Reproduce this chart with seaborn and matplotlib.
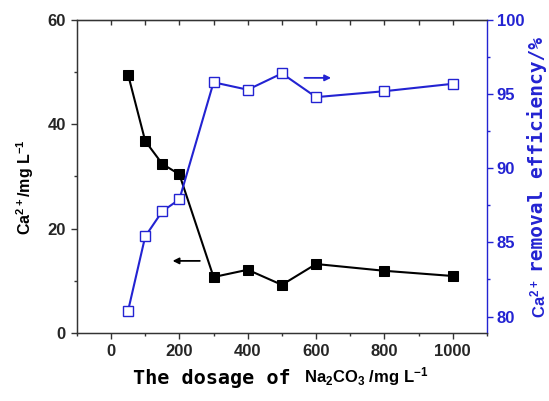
import matplotlib
matplotlib.use("Agg")
import matplotlib.pyplot as plt
import seaborn as sns
import pandas as pd
from matplotlib.ticker import MultipleLocator

# Na2CO3 dosage (mg/L)
dosage = [50, 100, 150, 200, 300, 400, 500, 600, 800, 1000]
# residual Ca2+ concentration (mg/L)
ca_residual = [49.5, 36.8, 32.4, 30.4, 10.7, 12.1, 9.2, 13.2, 11.9, 10.9]
# Ca2+ removal efficiency (%)
removal_eff = [80.4, 85.4, 87.1, 87.9, 95.8, 95.3, 96.4, 94.8, 95.2, 95.7]

x_ticks = [0, 200, 400, 600, 800, 1000]
left_ticks = [0, 20, 40, 60]
right_ticks = [80, 85, 90, 95, 100]

df = pd.DataFrame({"dosage": dosage, "ca": ca_residual, "eff": removal_eff})

sns.set_style("ticks")
plt.rcParams["font.family"] = ["Liberation Sans", "DejaVu Sans"]
plt.rcParams["font.weight"] = "bold"
plt.rcParams["mathtext.default"] = "regular"

BLUE = "#2323d2"
AXC = "#333333"
W, H = 549, 401

fig = plt.figure(figsize=(W / 100, H / 100), dpi=100)
ax = fig.add_axes([0.140, 0.170, 0.747, 0.780])
ax2 = ax.twinx()

sns.lineplot(data=df, x="dosage", y="ca", ax=ax, color="black", marker="s",
             markersize=6.5, markeredgecolor="black", linewidth=1.5)
sns.lineplot(data=df, x="dosage", y="eff", ax=ax2, color=BLUE, marker="s",
             markersize=6.5, markerfacecolor="white", markeredgecolor=BLUE,
             markeredgewidth=1.0, linewidth=1.5)

ax.set_xlim(-100, 1100)
ax.set_ylim(0, 60)
ax2.set_ylim(78.9, 100)

ax.set_xticks(x_ticks)
ax.xaxis.set_minor_locator(MultipleLocator(100))
ax.set_yticks(left_ticks)
ax.yaxis.set_minor_locator(MultipleLocator(10))
ax2.set_yticks(right_ticks)
ax2.yaxis.set_minor_locator(MultipleLocator(2.5))

ax.tick_params(axis="both", which="major", direction="out", length=4, width=1,
               color=AXC, labelsize=12, pad=4)
ax.tick_params(axis="both", which="minor", direction="out", length=2.5, width=1,
               color=AXC)
ax2.tick_params(axis="y", which="major", direction="out", length=4, width=1,
                color=BLUE, labelcolor=BLUE, labelsize=12, pad=3)
ax2.tick_params(axis="y", which="minor", direction="out", length=2.5, width=1,
                color=BLUE)
for lab in ax.get_xticklabels() + ax.get_yticklabels() + ax2.get_yticklabels():
    lab.set_fontweight("bold")

# mirrored ticks along the top edge
top = ax.secondary_xaxis("top")
top.set_xticks(range(0, 1001, 100))
top.tick_params(direction="in", length=3.5, width=1, color=AXC, labeltop=False)
top.spines["top"].set_color(AXC)

for side in ["left", "bottom", "top"]:
    ax.spines[side].set_color(AXC)
    ax.spines[side].set_linewidth(1.0)
    ax2.spines[side].set_color(AXC)
ax2.spines["right"].set_color(BLUE)
ax2.spines["right"].set_linewidth(1.0)
ax.spines["right"].set_visible(False)

ax.set_xlabel("")
ax.set_ylabel("")
ax2.set_ylabel("")

MONO = ["DejaVu Sans Mono"]

# left axis title
fig.text(25 / W, 1 - 187 / H, "Ca$^{2+}$/mg L$^{-1}$", rotation=90,
         ha="center", va="center", fontsize=11.5, fontweight="bold",
         color="black")

# bottom axis title: monospaced words followed by the formula
fig.text(133 / W, 1 - 378 / H, "The dosage of", family=MONO, fontsize=14.5,
         fontweight="bold", ha="left", va="center", color="black")
fig.text(304 / W, 1 - 377 / H, "Na$_2$CO$_3$ /mg L$^{-1}$", fontsize=12,
         fontweight="bold", ha="left", va="center", color="black")

# right axis title
fig.text(538 / W, 1 - 318 / H, "Ca$^{2+}$", rotation=90, fontsize=12,
         fontweight="bold", ha="center", va="bottom", color=BLUE)
fig.text(537 / W, 1 - 272 / H, "removal efficiency/%", rotation=90,
         family=MONO, fontsize=14, fontweight="bold", ha="center",
         va="bottom", color=BLUE)

# arrows pointing to the matching axis
ax.annotate("", xy=(172, 13.8), xytext=(268, 13.8),
            arrowprops=dict(arrowstyle="-|>", color="black", lw=1.3,
                            mutation_scale=9))
ax2.annotate("", xy=(652, 96.1), xytext=(558, 96.1),
             arrowprops=dict(arrowstyle="-|>", color=BLUE, lw=1.3,
                             mutation_scale=9))

fig.savefig("out.png", dpi=100)
